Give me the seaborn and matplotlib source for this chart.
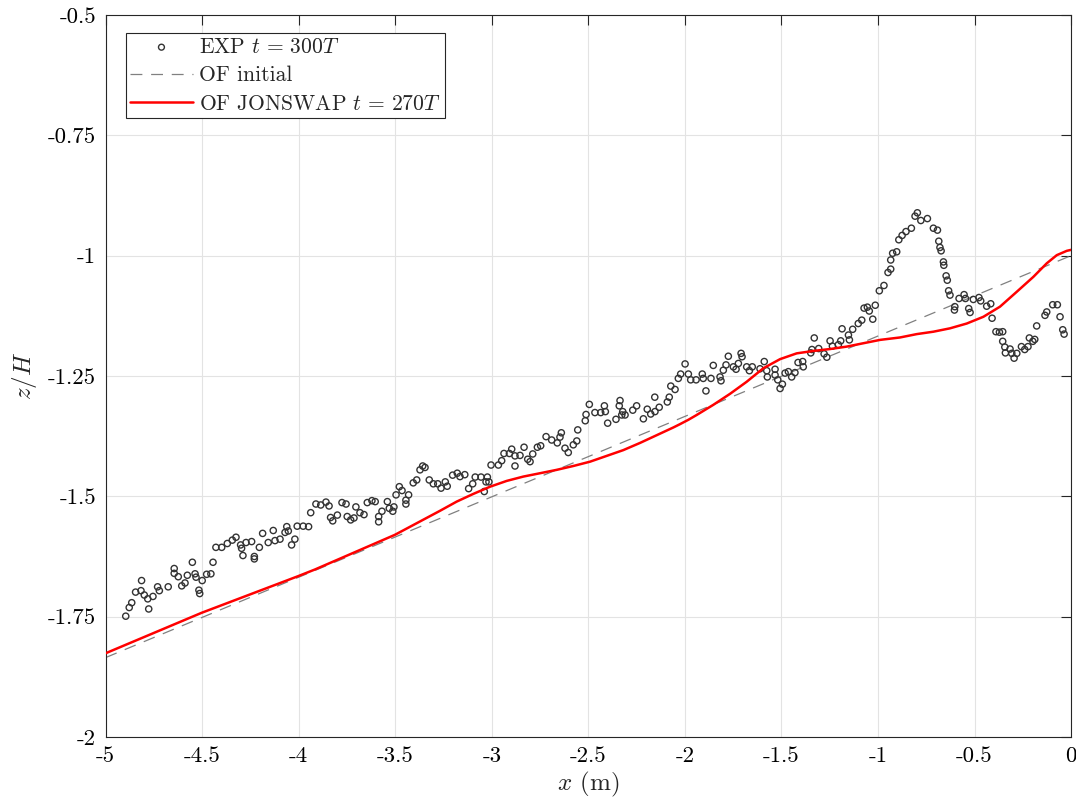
import numpy as np
import pandas as pd
import matplotlib
matplotlib.use("Agg")
import matplotlib.pyplot as plt
import seaborn as sns

# ---- data ----
exp_x = [-4.896, -4.878, -4.865, -4.845, -4.817, -4.814, -4.800, -4.782, -4.777, -4.755,
         -4.731, -4.722, -4.676, -4.645, -4.645, -4.624, -4.606, -4.589, -4.577, -4.551,
         -4.537, -4.532, -4.517, -4.513, -4.500, -4.477, -4.455, -4.444, -4.289, -4.230,
         -4.230, -4.429, -4.399, -4.370, -4.344, -4.325, -4.301, -4.296, -4.273, -4.244,
         -4.204, -4.187, -4.158, -4.132, -4.123, -4.097, -4.071, -4.062, -4.054,
         -4.037, -4.020, -4.008, -3.977, -3.949, -3.938, -3.911, -3.886, -3.859, -3.843,
         -3.835, -3.824, -3.800, -3.776, -3.755, -3.749, -3.731, -3.714, -3.704, -3.683,
         -3.662, -3.645, -3.621, -3.604, -3.586, -3.586, -3.569, -3.541, -3.531, -3.513,
         -3.507, -3.496, -3.479, -3.465, -3.445, -3.445, -3.431, -3.407, -3.389, -3.372,
         -3.358, -3.346, -3.324, -3.303, -3.280, -3.263, -3.241, -3.231, -3.203, -3.179,
         -3.165, -3.140, -3.120, -3.099, -3.086,
         -3.056, -3.039, -3.030, -3.023, -3.015, -3.004, -2.966, -2.949, -2.937, -2.909,
         -2.897, -2.880, -2.880, -2.854, -2.833, -2.814, -2.802, -2.788, -2.764, -2.747,
         -2.719, -2.690, -2.661, -2.647, -2.640, -2.621, -2.604, -2.578, -2.560, -2.555,
         -2.516, -2.512, -2.495, -2.466, -2.436, -2.417, -2.412, -2.400, -2.357, -2.340,
         -2.336, -2.322, -2.327, -2.310, -2.270, -2.250, -2.215, -2.195, -2.177, -2.155,
         -2.156, -2.133, -2.091, -2.081,
         -2.073, -2.051, -2.034, -2.022, -1.999, -1.982, -1.970, -1.942, -1.910, -1.905,
         -1.891, -1.865, -1.853, -1.818, -1.813, -1.801, -1.787, -1.775, -1.749, -1.735,
         -1.723, -1.709, -1.704, -1.680, -1.666, -1.651, -1.611, -1.589, -1.576, -1.573,
         -1.533, -1.533, -1.519, -1.507, -1.495, -1.481, -1.464, -1.447, -1.430, -1.414,
         -1.390, -1.387, -1.348, -1.342, -1.330, -1.307, -1.279, -1.265, -1.248, -1.236,
         -1.205, -1.193, -1.186, -1.153, -1.148, -1.131, -1.102,
         -1.084, -1.072, -1.055, -1.045, -1.027, -1.014, -0.993, -0.969, -0.948, -0.934,
         -0.934, -0.924, -0.903, -0.892, -0.875, -0.855, -0.827, -0.808, -0.796, -0.778,
         -0.744, -0.713, -0.692, -0.685, -0.679, -0.673, -0.661, -0.659, -0.647, -0.641,
         -0.634, -0.627, -0.602, -0.604, -0.580, -0.554, -0.547, -0.530, -0.523, -0.506,
         -0.477, -0.468, -0.437, -0.416, -0.409, -0.389, -0.371, -0.354, -0.354, -0.343,
         -0.340, -0.316, -0.307, -0.295, -0.281, -0.257, -0.240, -0.223, -0.216, -0.198,
         -0.188, -0.178, -0.135, -0.126, -0.095, -0.071, -0.057, -0.043, -0.036]
exp_z = [-1.749, -1.731, -1.721, -1.699, -1.696, -1.675, -1.705, -1.713, -1.734, -1.708,
         -1.688, -1.696, -1.688, -1.650, -1.660, -1.667, -1.686, -1.680, -1.664, -1.637,
         -1.661, -1.668, -1.695, -1.702, -1.675, -1.662, -1.661, -1.637, -1.623, -1.625,
         -1.630, -1.606, -1.606, -1.598, -1.591, -1.585, -1.601, -1.608, -1.596, -1.594,
         -1.606, -1.577, -1.596, -1.571, -1.592, -1.589, -1.575, -1.563, -1.572,
         -1.601, -1.589, -1.562, -1.562, -1.563, -1.534, -1.516, -1.518, -1.512, -1.520,
         -1.544, -1.551, -1.539, -1.513, -1.516, -1.542, -1.549, -1.545, -1.522, -1.534,
         -1.538, -1.513, -1.509, -1.511, -1.542, -1.553, -1.531, -1.511, -1.525, -1.531,
         -1.522, -1.497, -1.480, -1.488, -1.508, -1.516, -1.497, -1.472, -1.466, -1.445,
         -1.437, -1.440, -1.466, -1.474, -1.474, -1.483, -1.470, -1.479, -1.456, -1.452,
         -1.459, -1.455, -1.484, -1.474, -1.460,
         -1.460, -1.490, -1.470, -1.460, -1.470, -1.435, -1.435, -1.426, -1.411, -1.411,
         -1.402, -1.416, -1.437, -1.415, -1.398, -1.423, -1.428, -1.412, -1.398, -1.395,
         -1.376, -1.383, -1.389, -1.377, -1.368, -1.400, -1.409, -1.393, -1.385, -1.362,
         -1.343, -1.330, -1.309, -1.326, -1.326, -1.312, -1.324, -1.348, -1.340, -1.312,
         -1.301, -1.324, -1.331, -1.331, -1.321, -1.312, -1.339, -1.319, -1.329, -1.324,
         -1.294, -1.315, -1.304, -1.294,
         -1.271, -1.278, -1.255, -1.246, -1.225, -1.246, -1.258, -1.258, -1.246, -1.255,
         -1.281, -1.255, -1.228, -1.252, -1.260, -1.238, -1.227, -1.209, -1.231, -1.236,
         -1.224, -1.203, -1.210, -1.231, -1.239, -1.231, -1.235, -1.220, -1.239, -1.252,
         -1.236, -1.248, -1.258, -1.276, -1.267, -1.244, -1.241, -1.252, -1.243, -1.222,
         -1.220, -1.231, -1.202, -1.195, -1.171, -1.193, -1.204, -1.211, -1.177, -1.188,
         -1.185, -1.177, -1.152, -1.165, -1.175, -1.153, -1.141,
         -1.134, -1.109, -1.107, -1.115, -1.132, -1.103, -1.073, -1.062, -1.035, -1.028,
         -1.009, -0.995, -0.992, -0.967, -0.958, -0.950, -0.943, -0.918, -0.911, -0.927,
         -0.923, -0.943, -0.947, -0.970, -0.983, -0.990, -1.013, -1.020, -1.042, -1.051,
         -1.073, -1.082, -1.106, -1.113, -1.089, -1.081, -1.089, -1.110, -1.118, -1.091,
         -1.087, -1.094, -1.105, -1.100, -1.130, -1.158, -1.159, -1.158, -1.178, -1.190,
         -1.202, -1.194, -1.203, -1.213, -1.203, -1.189, -1.195, -1.189, -1.171, -1.178,
         -1.174, -1.146, -1.124, -1.117, -1.102, -1.102, -1.127, -1.154, -1.163]

init_x = [-5.0, 0.0]
init_z = [-1.835, -1.0]

jon_x = [-5.000, -4.503, -4.004, -3.916, -3.502, -3.268, -3.182, -3.096, -3.009, -2.923,
         -2.837, -2.750, -2.664, -2.578, -2.491, -2.405, -2.319, -2.232, -2.146, -2.060,
         -2.025, -1.982, -1.939, -1.853, -1.766, -1.680, -1.594, -1.507, -1.421, -1.335,
         -1.248, -1.162, -1.076, -0.989, -0.886, -0.799, -0.713, -0.627, -0.540, -0.454,
         -0.368, -0.281, -0.195, -0.126, -0.074, -0.022, 0.000]
jon_z = [-1.826, -1.742, -1.666, -1.652, -1.580, -1.530, -1.511, -1.495, -1.480, -1.468,
         -1.459, -1.452, -1.445, -1.437, -1.428, -1.416, -1.404, -1.389, -1.373, -1.357,
         -1.350, -1.341, -1.331, -1.310, -1.287, -1.262, -1.234, -1.215, -1.203, -1.198,
         -1.194, -1.189, -1.182, -1.175, -1.170, -1.163, -1.158, -1.151, -1.141, -1.127,
         -1.106, -1.075, -1.044, -1.016, -0.999, -0.990, -0.988]

xticks = [-5, -4.5, -4, -3.5, -3, -2.5, -2, -1.5, -1, -0.5, 0]
xtick_labels = ["-5", "-4.5", "-4", "-3.5", "-3", "-2.5", "-2", "-1.5", "-1", "-0.5", "0"]
yticks = [-2, -1.75, -1.5, -1.25, -1, -0.75, -0.5]
ytick_labels = ["-2", "-1.75", "-1.5", "-1.25", "-1", "-0.75", "-0.5"]

lab_exp = r"EXP $t\,=\,300T$"
lab_init = "OF initial"
lab_jon = r"OF JONSWAP $t\,=\,270T$"

# ---- style ----
sns.set_theme(style="white")
plt.rcParams["font.family"] = ["cmr10", "DejaVu Serif"]
plt.rcParams["mathtext.fontset"] = "cm"
plt.rcParams["axes.formatter.use_mathtext"] = True

fig = plt.figure(figsize=(10.76, 8.09), dpi=100)
ax = fig.add_axes([0.0982, 0.089, 0.8972, 0.8925])

df_exp = pd.DataFrame({"x": exp_x, "z": exp_z})
df_init = pd.DataFrame({"x": init_x, "z": init_z})
df_jon = pd.DataFrame({"x": jon_x, "z": jon_z})

sns.lineplot(data=df_init, x="x", y="z", ax=ax, color="#808080", lw=0.9,
             estimator=None, sort=False, label=lab_init, zorder=2)
ax.lines[-1].set_dashes([9.5, 7])
sns.scatterplot(data=df_exp, x="x", y="z", ax=ax, marker="o", s=20,
                facecolor="none", edgecolor="#333333", linewidth=1.0,
                label=lab_exp, zorder=3)
sns.lineplot(data=df_jon, x="x", y="z", ax=ax, color="#ff0000", lw=1.8,
             estimator=None, sort=False, label=lab_jon, zorder=4)

ax.set_xlim(-5, 0)
ax.set_ylim(-2, -0.5)
ax.set_xticks(xticks)
ax.set_xticklabels(xtick_labels)
ax.set_yticks(yticks)
ax.set_yticklabels(ytick_labels)
ax.tick_params(direction="in", length=7, width=0.8, labelsize=16.5, colors="#262626",
               top=True, right=True, pad=7)
for lab in ax.get_xticklabels() + ax.get_yticklabels():
    lab.set_color("black")
ax.grid(True, color="#e3e3e3", lw=0.8)
for sp in ax.spines.values():
    sp.set_color("#262626")
    sp.set_linewidth(0.8)
ax.set_xlabel(r"$x$ (m)", fontsize=18, labelpad=3)
ax.set_ylabel(r"$z/H$", fontsize=18, labelpad=6)

h, l = ax.get_legend_handles_labels()
order = [l.index(lab_exp), l.index(lab_init), l.index(lab_jon)]
leg = ax.legend([h[i] for i in order], [l[i] for i in order], loc="upper left",
                bbox_to_anchor=(0.021, 0.975), fontsize=15.5, frameon=True, fancybox=False,
                edgecolor="#262626", framealpha=1, handlelength=2.9, handletextpad=0.3,
                borderpad=0.2, labelspacing=0.42, borderaxespad=0)
leg.get_frame().set_linewidth(0.8)
for lh in leg.legend_handles:
    if hasattr(lh, "set_sizes"):
        lh.set_sizes([18])

fig.savefig("out.png", dpi=100)
